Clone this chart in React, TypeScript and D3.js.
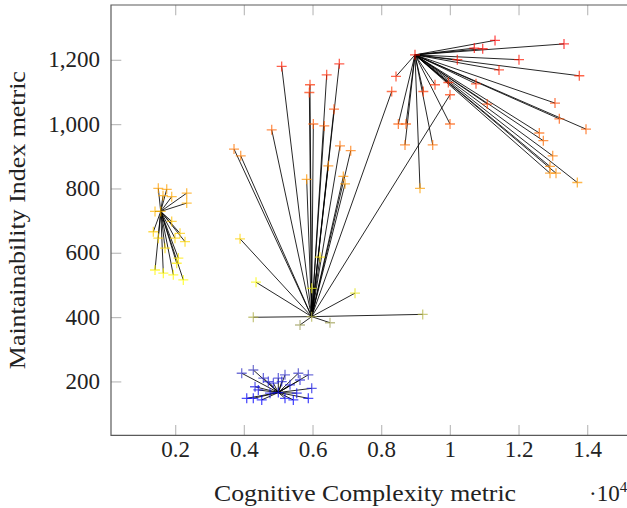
import React from "react";
import * as d3 from "d3";

// cluster centres [x, y]
const centers: [number, number][] = [
  [1564, 730],
  [5960, 403],
  [8970, 1217],
  [4990, 167],
];

// points of each cluster
const cluster1: [number, number][] = [
  [1494, 802], [1739, 799], [1631, 779], [1884, 776], [2321, 787], [2321, 756],
  [1398, 730], [1884, 699], [2126, 662], [1349, 667], [1494, 647], [1980, 647],
  [2272, 636], [1689, 616], [2077, 585], [2030, 569], [1398, 548], [1640, 538],
  [1931, 533], [2222, 517],
];
const cluster2: [number, number][] = [
  [5087, 1181], [6766, 1189], [6398, 1155], [5912, 1124], [5893, 1100], [6611, 1048],
  [6009, 1002], [6329, 996], [4797, 984], [3699, 924], [3894, 903], [6786, 934],
  [7098, 919], [6446, 872], [6883, 839], [6932, 816], [5815, 830], [3874, 645],
  [6204, 588], [4340, 510], [7223, 476], [5962, 491], [4261, 401], [5621, 377],
  [6495, 384], [9990, 1093], [8292, 1103], [9195, 410],
];
const cluster3: [number, number][] = [
  [11301, 1262], [10698, 1238], [10942, 1236], [13310, 1251], [10203, 1202], [11999, 1202],
  [11417, 1170], [13756, 1152], [8417, 1150], [9213, 1103], [9553, 1124], [9941, 1131],
  [10747, 1127], [11076, 1064], [13048, 1067], [13174, 1018], [13951, 986], [8485, 1002],
  [8708, 1002], [9990, 1002], [8679, 937], [9486, 937], [12591, 974], [12708, 950],
  [12981, 903], [12902, 870], [12902, 849], [13077, 849], [13698, 820], [9116, 802],
];
const cluster4: [number, number][] = [
  [3923, 227], [4261, 237], [4069, 149], [4261, 149], [4506, 144], [4311, 185],
  [4553, 212], [4699, 201], [4845, 196], [5088, 201], [5184, 222], [5572, 227],
  [5863, 222], [5621, 206], [5330, 191], [5962, 180], [5184, 149], [5427, 144],
  [5863, 149], [4747, 165], [5525, 165], [4407, 175], [4989, 212],
];
const clusters = [cluster1, cluster2, cluster3, cluster4];

const xTicks = [2000, 4000, 6000, 8000, 10000, 12000, 14000];
const yTicks = [200, 400, 600, 800, 1000, 1200];

const W = 627;
const H = 508;
const FONT = "'Liberation Serif', 'Times New Roman', serif";

export default function App() {
  const x = d3.scaleLinear().domain([116, 15174]).range([111, 628]);
  const y = d3.scaleLinear().domain([34, 1372]).range([435.3, 5]);

  const allY = clusters.flat().map((d) => d[1]).concat(centers.map((d) => d[1]));
  const [lo, hi] = d3.extent(allY) as [number, number];
  // pgfplots "hot" colormap: blue, yellow, orange, red
  const color = d3
    .scaleLinear<string>()
    .domain([lo, lo + (hi - lo) / 3, lo + (2 * (hi - lo)) / 3, hi])
    .range(["rgb(0,0,255)", "rgb(255,255,0)", "rgb(255,128,0)", "rgb(255,0,0)"]);

  const fmt = d3.format(",");
  const m = 5; // half size of the + marker

  const plus = (p: [number, number], key: string) => (
    <path
      key={key}
      d={`M${x(p[0]) - m},${y(p[1])}h${2 * m}M${x(p[0])},${y(p[1]) - m}v${2 * m}`}
      stroke={color(p[1])}
      strokeWidth={1.3}
      opacity={0.7}
      fill="none"
    />
  );

  return (
    <svg
      width={W}
      height={H}
      style={{ position: "absolute", left: 0, top: 0, background: "white" }}
      fontFamily={FONT}
    >
      <defs>
        <clipPath id="plot">
          <rect x={111} y={5} width={517} height={430.3} />
        </clipPath>
      </defs>

      {/* ticks */}
      <g stroke="#bdbdbd" strokeWidth={1.2}>
        {xTicks.map((t) => (
          <g key={t}>
            <line x1={x(t)} x2={x(t)} y1={435.3} y2={425} />
            <line x1={x(t)} x2={x(t)} y1={5} y2={15.3} />
          </g>
        ))}
        {yTicks.map((t) => (
          <line key={t} x1={111} x2={121.3} y1={y(t)} y2={y(t)} />
        ))}
      </g>

      <g clipPath="url(#plot)">
        {/* lines from the centre to every point */}
        <g stroke="black" strokeWidth={0.85}>
          {clusters.map((c, i) =>
            c.map((p, j) => (
              <line
                key={`${i}-${j}`}
                x1={x(centers[i][0])}
                y1={y(centers[i][1])}
                x2={x(p[0])}
                y2={y(p[1])}
              />
            ))
          )}
        </g>
        {clusters.map((c, i) => c.map((p, j) => plus(p, `p${i}-${j}`)))}
        {centers.map((p, i) => plus(p, `c${i}`))}
      </g>

      {/* axis box */}
      <path d="M628,5H111V435.3H628" fill="none" stroke="#5a5a5a" strokeWidth={1.2} />

      {/* tick labels */}
      <g fontSize={23} fill="#222">
        {xTicks.map((t) => (
          <text key={t} x={x(t)} y={457} textAnchor="middle">
            {t / 10000}
          </text>
        ))}
        {yTicks.map((t) => (
          <text key={t} x={100} y={y(t) + 7} textAnchor="end">
            {fmt(t)}
          </text>
        ))}
        <text x={589} y={501}>
          ·10
          <tspan dy={-9} fontSize={15}>
            4
          </tspan>
        </text>
      </g>

      {/* axis titles */}
      <text
        x={365}
        y={501}
        textAnchor="middle"
        fontSize={24}
        fill="#222"
        textLength={302}
        lengthAdjust="spacingAndGlyphs"
      >
        Cognitive Complexity metric
      </text>
      <text
        transform={`translate(25,${(5 + 435.3) / 2}) rotate(-90)`}
        textAnchor="middle"
        fontSize={24}
        fill="#222"
        textLength={298}
        lengthAdjust="spacingAndGlyphs"
      >
        Maintainability Index metric
      </text>
    </svg>
  );
}
